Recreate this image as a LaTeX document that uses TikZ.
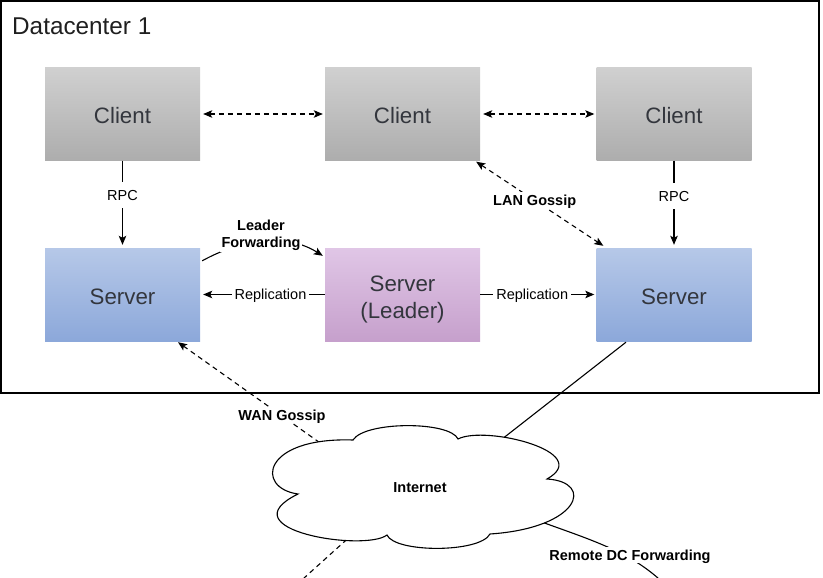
\documentclass[tikz,border=0pt]{standalone}
\usepackage{fontspec}
\setmainfont{Liberation Sans}
\usetikzlibrary{arrows.meta,calc}
\definecolor{cltop}{HTML}{D0D0D0}
\definecolor{clbot}{HTML}{ADADAD}
\definecolor{svtop}{HTML}{B6C8E8}
\definecolor{svbot}{HTML}{8CA8DA}
\definecolor{ldtop}{HTML}{E0C6E6}
\definecolor{ldbot}{HTML}{C6A0CC}
\definecolor{boxtext}{HTML}{33363D}
\begin{document}
\begin{tikzpicture}[x=1pt,y=-1pt,
  >={Stealth[length=9pt,width=7.5pt,inset=2pt]},
  box/.style={minimum width=155pt, minimum height=93pt, inner sep=0pt,
    font=\fontsize{22.3}{27}\selectfont, text=boxtext, text height=20pt, text depth=0pt},
  client/.style={box, top color=cltop, bottom color=clbot},
  server/.style={box, top color=svtop, bottom color=svbot},
  leader/.style={box, top color=ldtop, bottom color=ldbot, align=center,
    text height=47.3pt, text depth=0pt},
  lbl/.style={fill=white, inner sep=3pt, font=\fontsize{14.5}{17}\selectfont,
    text height=10.4pt, text depth=0pt},
  blbl/.style={lbl, font=\fontsize{14.5}{17}\selectfont\bfseries},
  conn/.style={line width=1.1pt},
  dsh/.style={conn, dash pattern=on 5pt off 4pt}]
\useasboundingbox (0,0) rectangle (823,578);
\clip (0,0) rectangle (823,578);
\draw[line width=1.4pt] (1,1) rectangle (819,393);
\node[anchor=base west, font=\fontsize{24.3}{28}\selectfont, text=black!88, inner sep=0pt] (dc) at (12,35) {Datacenter 1};

\node[client] (c1) at (122.5,114) {Client};
\node[client] (c2) at (402.5,114) {Client};
\node[client] (c3) at (674,114) {Client};
\node[server] (s1) at (122.5,294.5) {Server};
\node[leader] (ld) at (402.5,294.5) {Server\\(Leader)};
\node[server] (s3) at (674,294.5) {Server};

% client gossip
\draw[dsh,<->,shorten <=3pt,shorten >=2pt] (c1.east) -- (c2.west);
\draw[dsh,<->,shorten <=3pt,shorten >=2pt] (c2.east) -- (c3.west);

% RPC
\node[lbl, inner ysep=8pt, fill=none] (r1) at (122.5,195) {RPC};
\draw[conn] (c1.south) -- (r1.north);
\draw[conn,->,shorten >=3pt] (r1.south) -- (s1.north);
\node[lbl, inner ysep=8pt, fill=none] (r3) at (674,196) {RPC};
\draw[conn] (c3.south) -- (r3.north);
\draw[conn,->,shorten >=3pt] (r3.south) -- (s3.north);

% Replication
\draw[conn,->,shorten >=3pt] (ld.west) -- (s1.east) node[lbl,pos=0.436] {Replication};
\draw[conn,->,shorten >=2pt] (ld.east) -- (s3.west) node[lbl,pos=0.448] {Replication};

% LAN gossip
\draw[dsh,<->] ($(c2.south east)+(-4,1)$) -- ($(s3.north west)+(7,-2)$) node[blbl,pos=0.46] (lan) {LAN Gossip};

% Leader forwarding
\draw[conn,->] ($(s1.north east)+(2,13)$) .. controls (240,240) and (285,232) .. ($(ld.north west)+(-2,8)$);
\node[blbl, align=center, inner sep=2pt, text height=, text depth=] (lf) at (261,235) {Leader\\Forwarding};

% WAN gossip (passes behind the cloud)
\coordinate (wb) at (395,496);
\coordinate (wend) at (283,597);
\draw[dsh,<-] ($(s1.south)+(55.5,1)$) -- (wb) -- (wend);
\node[blbl] (wan) at (282,415) {WAN Gossip};

% Remote DC forwarding (passes behind the cloud)
\coordinate (rb) at (442,486);
\coordinate (rm) at (550,525);
\coordinate (rend) at (672,592);
\draw[conn] ($(s3.south)+(-48,1)$) -- (rb) -- (rm) .. controls (600,543) and (640,556) .. (rend);
\node[blbl] (rdc) at (630,555) {Remote DC Forwarding};

% Cloud
\draw[line width=1.1pt, fill=white] (298,494)
  .. controls (255,488) and (262,437) .. (353,440)
  .. controls (365,421) and (450,421) .. (458,439)
  .. controls (485,425) and (595,452) .. (547,479)
  .. controls (595,482) and (580,528) .. (490,534)
  .. controls (480,553) and (395,553) .. (387,535)
  .. controls (365,552) and (225,530) .. (298,494) -- cycle;
\node[font=\fontsize{14.5}{17}\selectfont\bfseries, text height=10.4pt, text depth=0pt] (inet) at (420,487) {Internet};
\end{tikzpicture}
\end{document}
